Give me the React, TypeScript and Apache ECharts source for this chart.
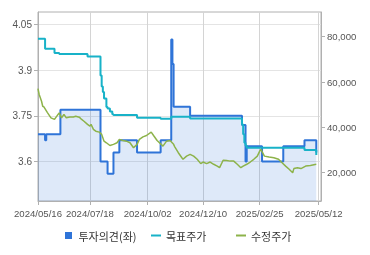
import React, { useEffect, useRef } from 'react';
import * as echarts from 'echarts';

// KRX market closing days inside the charted period
const marketHolidays = [
  '2024/06/06', '2024/08/15', '2024/09/16', '2024/09/17', '2024/09/18',
  '2024/10/01', '2024/10/03', '2024/10/09', '2024/12/25', '2024/12/31',
  '2025/01/01', '2025/01/27', '2025/01/28', '2025/01/29', '2025/01/30',
  '2025/03/03', '2025/05/01', '2025/05/05', '2025/05/06',
];
const firstDay = [2024, 5, 16];
const lastDay = [2025, 5, 14];

const labelDates = ['2024/05/16', '2024/07/18', '2024/10/02', '2024/12/10', '2025/02/25', '2025/05/12'];

// 투자의견 (left axis) — trading-day number where the value changes, and the value
const opinionDay = [0, 6, 7, 19, 53, 59, 64, 69, 84, 104, 113, 114, 115, 129, 173, 176, 177, 190, 208, 226, 236, 241];
const opinionVal = [3.69, 3.67, 3.69, 3.77, 3.6, 3.56, 3.63, 3.67, 3.63, 3.67, 4.0, 3.92, 3.78, 3.75, 3.72, 3.6, 3.65, 3.6, 3.65, 3.67, 3.63, 3.63];

// 목표주가 (right axis)
const targetDay = [0, 6, 14, 18, 42, 53, 54, 55, 56, 58, 59, 61, 63, 64, 84, 104, 113, 129, 173, 174, 175, 176, 177, 226, 236, 241];
const targetVal = [79100, 74700, 72800, 72400, 71300, 62900, 58000, 55600, 52700, 49000, 48300, 47000, 45800, 45400, 44200, 43800, 44700, 43900, 41300, 37000, 33200, 32000, 31000, 30000, 27800, 27800];

// 수정주가 (right axis)
const priceDay = [0, 1, 3, 4, 5, 8, 11, 14, 17, 18, 20, 22, 24, 27, 30, 32, 35, 37, 39, 42, 44, 45, 47, 49, 52, 54, 56, 58, 61, 64, 67, 69, 72, 75, 78, 81, 84, 86, 89, 92, 96, 98, 101, 103, 106, 109, 112, 115, 116, 119, 122, 123, 126, 129, 132, 135, 138, 140, 143, 146, 149, 152, 154, 156, 157, 160, 163, 166, 169, 172, 174, 177, 180, 183, 186, 188, 189, 192, 196, 200, 204, 207, 210, 213, 216, 217, 220, 223, 227, 231, 236, 241];
const priceVal = [57100, 54500, 51500, 49300, 49000, 46500, 44200, 43500, 45700, 46400, 44200, 45700, 44200, 44600, 44600, 44900, 44500, 43500, 42700, 41300, 40500, 41300, 39100, 38300, 37900, 36900, 33900, 33200, 32000, 32500, 33200, 34700, 34200, 33900, 33200, 31000, 32500, 34700, 35800, 36400, 37900, 36400, 34200, 33200, 31700, 33900, 34200, 32500, 31400, 28800, 26600, 25900, 27300, 28100, 27300, 25900, 24000, 24700, 24000, 24700, 23700, 22900, 22200, 24400, 25500, 25400, 25100, 25100, 23700, 22200, 22900, 23700, 24700, 25900, 27300, 29500, 30300, 27300, 26900, 26600, 25900, 24400, 22900, 21500, 20000, 21800, 22200, 21800, 22900, 23200, 23700, 23700];

const leftTicks = [3.6, 3.75, 3.9, 4.05];
const rightTicks = [20000, 40000, 60000, 80000];

function pad(n: number) {
  return n < 10 ? '0' + n : String(n);
}

function buildTradingDays(): string[] {
  const out: string[] = [];
  const d = new Date(Date.UTC(firstDay[0], firstDay[1] - 1, firstDay[2]));
  const end = Date.UTC(lastDay[0], lastDay[1] - 1, lastDay[2]);
  while (d.getTime() <= end) {
    const wd = d.getUTCDay();
    const s = `${d.getUTCFullYear()}/${pad(d.getUTCMonth() + 1)}/${pad(d.getUTCDate())}`;
    if (wd !== 0 && wd !== 6 && marketHolidays.indexOf(s) < 0) out.push(s);
    d.setUTCDate(d.getUTCDate() + 1);
  }
  return out;
}

const BLUE = '#2f74d8';
const TEAL = '#18b2c8';
const GREEN = '#8db34a';
const AXIS = '#b0b0b0';
const GRIDC = '#e4e4e4';
const VGRIDC = '#d4d4d4';
const LABEL = '#555';
const FONT = "'Liberation Sans', Arial, sans-serif";
const KFONT = "'Noto Sans CJK KR', sans-serif";

export default function App() {
  const ref = useRef<HTMLDivElement>(null);
  useEffect(() => {
    if (!ref.current) return;
    const chart = echarts.init(ref.current, undefined, { renderer: 'svg' });
    const dates = buildTradingDays();
    const showAt = (_i: number, v: string) => labelDates.indexOf(v) >= 0;
    const pairs = (days: number[], vals: number[]) => days.map((d, k) => [dates[d], vals[k]]);

    const legendBase = {
      top: 225,
      itemWidth: 10,
      itemHeight: 7,
      itemGap: 0,
      textStyle: { color: '#333', fontSize: 11, fontFamily: KFONT },
      selectedMode: false as const,
    };

    chart.setOption({
      animation: false,
      grid: { left: 38, right: 49, top: 12, bottom: 54, show: true, borderColor: AXIS, borderWidth: 1 },
      legend: [
        { ...legendBase, left: 60, data: [{ name: '투자의견(좌)', icon: 'path://M0,0H10V10H0Z' }] },
        { ...legendBase, left: 146, data: [{ name: '목표주가', icon: 'path://M0,0H10V2H0Z' }] },
        { ...legendBase, left: 231, data: [{ name: '수정주가', icon: 'path://M0,0H10V2H0Z' }] },
      ],
      xAxis: {
        type: 'category',
        boundaryGap: false,
        data: dates,
        axisLine: { lineStyle: { color: AXIS } },
        axisTick: { show: true, interval: showAt, length: 4, lineStyle: { color: AXIS } },
        axisLabel: { interval: showAt, color: LABEL, fontSize: 9.6, fontFamily: FONT, margin: 7 },
        splitLine: { show: true, interval: showAt, lineStyle: { color: VGRIDC, width: 1 } },
      },
      yAxis: [
        {
          type: 'value',
          position: 'left',
          min: 3.471,
          max: 4.09,
          axisLine: { show: true, lineStyle: { color: AXIS } },
          axisTick: { show: true, length: 4, customValues: leftTicks, lineStyle: { color: AXIS } },
          axisLabel: { customValues: leftTicks, color: LABEL, fontSize: 10, fontFamily: FONT, margin: 6, formatter: (v: number) => String(v) },
          splitLine: { show: true, lineStyle: { color: GRIDC } },
        },
        {
          type: 'value',
          position: 'right',
          min: 7500,
          max: 90900,
          axisLine: { show: true, lineStyle: { color: AXIS } },
          axisTick: { show: true, length: 4, customValues: rightTicks, lineStyle: { color: AXIS } },
          axisLabel: {
            customValues: rightTicks,
            color: LABEL,
            fontSize: 9.6,
            fontFamily: FONT,
            margin: 6,
            formatter: (v: number) => v.toLocaleString('en-US'),
          },
          splitLine: { show: false },
        },
      ],
      series: [
        {
          name: '투자의견(좌)',
          type: 'line',
          step: 'end',
          yAxisIndex: 0,
          data: pairs(opinionDay, opinionVal),
          showSymbol: false,
          lineStyle: { color: BLUE, width: 2 },
          itemStyle: { color: BLUE },
          areaStyle: { color: BLUE, opacity: 0.16 },
          z: 2,
        },
        {
          name: '목표주가',
          type: 'line',
          step: 'end',
          yAxisIndex: 1,
          data: pairs(targetDay, targetVal),
          showSymbol: false,
          lineStyle: { color: TEAL, width: 2 },
          itemStyle: { color: TEAL },
          z: 3,
        },
        {
          name: '수정주가',
          type: 'line',
          yAxisIndex: 1,
          data: pairs(priceDay, priceVal),
          showSymbol: false,
          lineStyle: { color: GREEN, width: 1.5 },
          itemStyle: { color: GREEN },
          z: 4,
        },
      ],
    });
    return () => chart.dispose();
  }, []);
  return <div ref={ref} style={{ position: 'fixed', left: 0, top: 0, width: 370, height: 255 }} />;
}
